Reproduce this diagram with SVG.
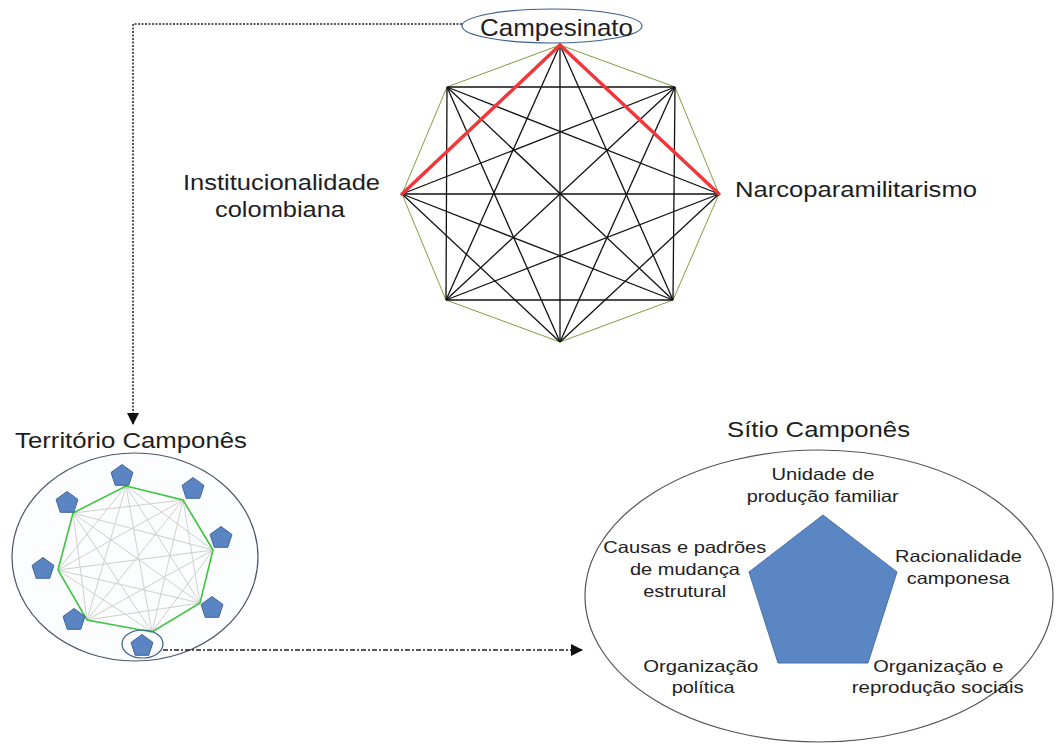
<svg xmlns="http://www.w3.org/2000/svg" xmlns:xlink="http://www.w3.org/1999/xlink" width="1056" height="744" viewBox="0 0 1056 744">
<defs>
<style>
.t{font-family:"Liberation Sans",Arial,sans-serif;fill:#1e1e1e}
.big{font-size:22px}
.sm{font-size:16.5px}
.blk{stroke:#111;stroke-width:1.3;fill:none}
.gry{stroke:#cfcfcf;stroke-width:1;fill:none}
.pent{fill:#5a85c2;stroke:#3f6699;stroke-width:1}
.dot{stroke:#222;stroke-width:1.5;fill:none}
</style>
<polygon id="pent" class="pent" points="0,-11.5 10.94,-3.55 6.76,9.3 -6.76,9.3 -10.94,-3.55"/>
<marker id="ah" viewBox="0 0 12 12" refX="11" refY="6" markerWidth="12" markerHeight="12" markerUnits="userSpaceOnUse" orient="auto">
<path d="M0,0 L12,6 L0,12 Z" fill="#111"/>
</marker>
</defs>
<rect width="1056" height="744" fill="#ffffff"/>

<g id="octagon">
<polygon points="560,45 675,87 719,194 673,300 560,342 446,300 402,194 447,87" fill="none" stroke="#7f9f3f" stroke-width="1"/>
<g class="blk">
<line x1="675" y1="87" x2="673" y2="300"/>
<line x1="719" y1="194" x2="560" y2="342"/>
<line x1="673" y1="300" x2="446" y2="300"/>
<line x1="560" y1="342" x2="402" y2="194"/>
<line x1="446" y1="300" x2="447" y2="87"/>
<line x1="447" y1="87" x2="675" y2="87"/>
<line x1="560" y1="45" x2="673" y2="300"/>
<line x1="675" y1="87" x2="560" y2="342"/>
<line x1="719" y1="194" x2="446" y2="300"/>
<line x1="673" y1="300" x2="402" y2="194"/>
<line x1="560" y1="342" x2="447" y2="87"/>
<line x1="446" y1="300" x2="560" y2="45"/>
<line x1="402" y1="194" x2="675" y2="87"/>
<line x1="447" y1="87" x2="719" y2="194"/>
<line x1="560" y1="45" x2="560" y2="342"/>
<line x1="675" y1="87" x2="446" y2="300"/>
<line x1="719" y1="194" x2="402" y2="194"/>
<line x1="673" y1="300" x2="447" y2="87"/>
</g>
<g stroke="#f2363c" stroke-width="3.5" stroke-linecap="round">
<line x1="560" y1="45" x2="402" y2="194"/>
<line x1="560" y1="45" x2="719" y2="194"/>
</g>
</g>

<g id="campesinato">
<ellipse cx="552" cy="26" rx="90" ry="17" fill="#ffffff" stroke="#3c5f8c" stroke-width="1.2"/>
<text class="t" x="480" y="36" font-size="24" textLength="153" lengthAdjust="spacingAndGlyphs">Campesinato</text>
</g>

<g id="institucionalidade">
<text class="t big" x="183" y="190" textLength="197" lengthAdjust="spacingAndGlyphs">Institucionalidade</text>
<text class="t big" x="215" y="217" textLength="130" lengthAdjust="spacingAndGlyphs">colombiana</text>
</g>

<g id="narcoparamilitarismo">
<text class="t big" x="735" y="197" textLength="242" lengthAdjust="spacingAndGlyphs">Narcoparamilitarismo</text>
</g>

<g id="territorio">
<text class="t big" x="15" y="448" textLength="232" lengthAdjust="spacingAndGlyphs">Território Camponês</text>
<ellipse cx="135" cy="557" rx="123" ry="104" fill="#fcfdfe" stroke="#4a5566" stroke-width="1.2"/>
<g class="gry">
<line x1="126" y1="486" x2="213" y2="550"/>
<line x1="126" y1="486" x2="200" y2="603"/>
<line x1="126" y1="486" x2="152" y2="632"/>
<line x1="126" y1="486" x2="87" y2="620"/>
<line x1="126" y1="486" x2="58" y2="570"/>
<line x1="183" y1="500" x2="200" y2="603"/>
<line x1="183" y1="500" x2="152" y2="632"/>
<line x1="183" y1="500" x2="87" y2="620"/>
<line x1="183" y1="500" x2="58" y2="570"/>
<line x1="183" y1="500" x2="73" y2="513"/>
<line x1="213" y1="550" x2="152" y2="632"/>
<line x1="213" y1="550" x2="87" y2="620"/>
<line x1="213" y1="550" x2="58" y2="570"/>
<line x1="213" y1="550" x2="73" y2="513"/>
<line x1="200" y1="603" x2="87" y2="620"/>
<line x1="200" y1="603" x2="58" y2="570"/>
<line x1="200" y1="603" x2="73" y2="513"/>
<line x1="152" y1="632" x2="58" y2="570"/>
<line x1="152" y1="632" x2="73" y2="513"/>
<line x1="87" y1="620" x2="73" y2="513"/>
</g>
<polygon points="126,486 183,500 213,550 200,603 152,632 87,620 58,570 73,513" fill="none" stroke="#3ec43e" stroke-width="1.6"/>
</g>

<g id="pentagons">
<g id="p1"><use xlink:href="#pent" x="122" y="476"/></g>
<g id="p2"><use xlink:href="#pent" x="193" y="489"/></g>
<g id="p3"><use xlink:href="#pent" x="221" y="538"/></g>
<g id="p4"><use xlink:href="#pent" x="212" y="608"/></g>
<g id="p5"><ellipse cx="142.5" cy="644" rx="20.5" ry="14" fill="none" stroke="#3c5f8c" stroke-width="1.2"/><use xlink:href="#pent" x="142" y="646"/></g>
<g id="p6"><use xlink:href="#pent" x="74" y="620"/></g>
<g id="p7"><use xlink:href="#pent" x="43" y="569"/></g>
<g id="p8"><use xlink:href="#pent" x="67" y="503"/></g>
</g>

<g id="sitio">
<text class="t big" x="727" y="437" textLength="183" lengthAdjust="spacingAndGlyphs">Sítio Camponês</text>
<ellipse cx="819" cy="596" rx="234" ry="146" fill="#ffffff" stroke="#555" stroke-width="1.2"/>
<polygon points="823,515 897,572 868,663 778,663 749,572" fill="#5a86c4" stroke="#4a70a8" stroke-width="1"/>
<g class="t sm">
<text x="771.5" y="480" textLength="103" lengthAdjust="spacingAndGlyphs">Unidade de</text>
<text x="746.7" y="502" textLength="152" lengthAdjust="spacingAndGlyphs">produção familiar</text>
<text x="603.3" y="553" textLength="163" lengthAdjust="spacingAndGlyphs">Causas e padrões</text>
<text x="630" y="575" textLength="110" lengthAdjust="spacingAndGlyphs">de mudança</text>
<text x="643.3" y="597" textLength="83" lengthAdjust="spacingAndGlyphs">estrutural</text>
<text x="895" y="562" textLength="127" lengthAdjust="spacingAndGlyphs">Racionalidade</text>
<text x="906.7" y="584" textLength="103" lengthAdjust="spacingAndGlyphs">camponesa</text>
<text x="643.3" y="672" textLength="115" lengthAdjust="spacingAndGlyphs">Organização</text>
<text x="671.7" y="693" textLength="63" lengthAdjust="spacingAndGlyphs">política</text>
<text x="873.3" y="672" textLength="130" lengthAdjust="spacingAndGlyphs">Organização e</text>
<text x="851.7" y="693" textLength="172" lengthAdjust="spacingAndGlyphs">reprodução sociais</text>
</g>
</g>

<g id="connectors">
<polyline class="dot" stroke-dasharray="2,1.5" points="462,24 133,24 133,424" marker-end="url(#ah)"/>
<polyline class="dot" stroke-dasharray="5,2,2,2" points="163,650 582,650" marker-end="url(#ah)"/>
</g>
</svg>
